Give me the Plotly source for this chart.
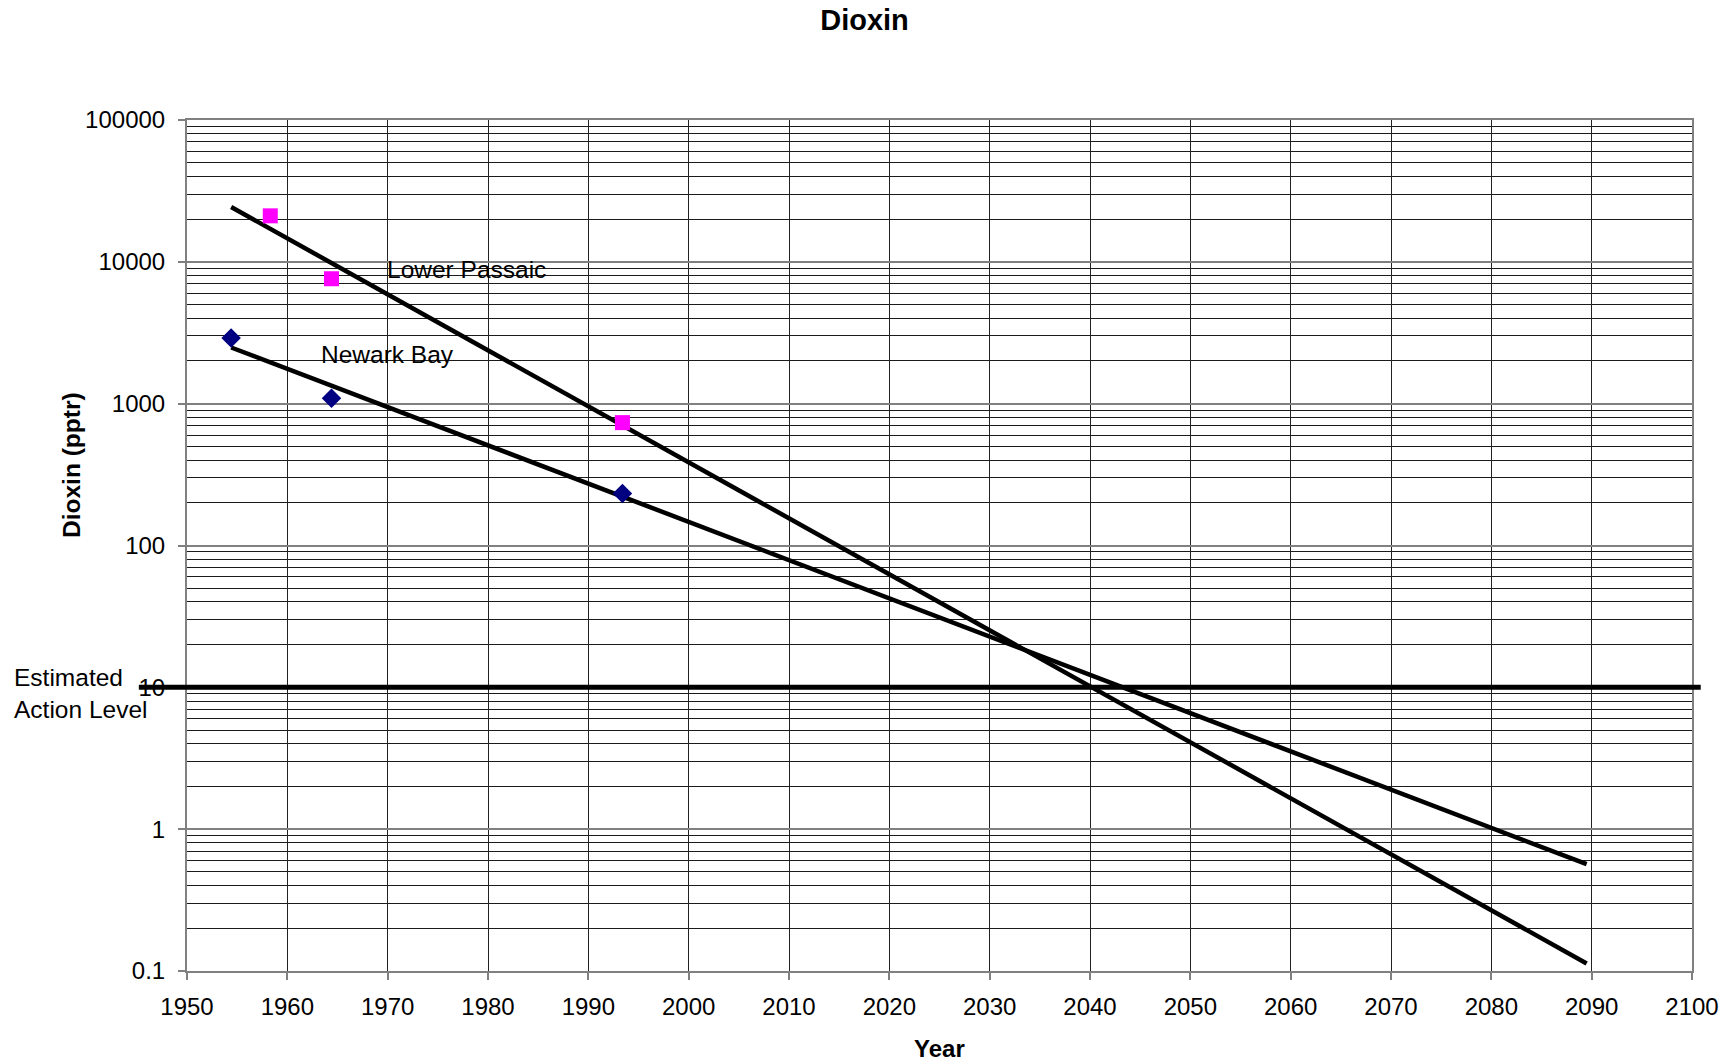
import numpy as np
import plotly.graph_objects as go

# ---- data ----
passaic_years = [1958.3, 1964.4, 1993.4]
passaic_vals = [21100, 7600, 735]

newark_years = [1954.4, 1964.4, 1993.4]
newark_vals = [2900, 1090, 233]

TREND_START = 1954.4
TREND_END = 2089.5
ACTION_LEVEL = 10

y_tickvals = [0.1, 1, 10, 100, 1000, 10000, 100000]
y_ticktext = ["0.1", "1", "10", "100", "1000", "10000", "100000"]
x_tickvals = list(range(1950, 2101, 10))

FONT = "Liberation Sans, Arial, sans-serif"


def exp_trend(xs, ys):
    b, a = np.polyfit(np.array(xs), np.log10(np.array(ys)), 1)
    tx = np.array([TREND_START, TREND_END])
    return tx, 10 ** (a + b * tx)


fig = go.Figure()

for xs, ys in [(passaic_years, passaic_vals), (newark_years, newark_vals)]:
    tx, ty = exp_trend(xs, ys)
    fig.add_trace(go.Scatter(x=tx, y=ty, mode="lines",
                             line=dict(color="black", width=4.5),
                             showlegend=False, hoverinfo="skip"))

fig.add_trace(go.Scatter(x=passaic_years, y=passaic_vals, mode="markers",
                         name="Lower Passaic",
                         marker=dict(symbol="square", size=15, color="#FF00FF"),
                         showlegend=False))
fig.add_trace(go.Scatter(x=newark_years, y=newark_vals, mode="markers",
                         name="Newark Bay",
                         marker=dict(symbol="diamond", size=15, color="#000080"),
                         showlegend=False))

# action level line
fig.add_shape(type="line", xref="paper", yref="y",
              x0=-0.032, x1=1.0058, y0=ACTION_LEVEL, y1=ACTION_LEVEL,
              line=dict(color="black", width=5), layer="above")

ann_font = dict(family=FONT, size=24.5, color="black")
fig.add_annotation(text="Lower Passaic", xref="paper", yref="paper",
                   x=0.1316, y=0.8249, xanchor="left", yanchor="middle",
                   showarrow=False, font=ann_font)
fig.add_annotation(text="Newark Bay", xref="paper", yref="paper",
                   x=0.0877, y=0.7239, xanchor="left", yanchor="middle",
                   showarrow=False, font=ann_font)
fig.add_annotation(text="Estimated<br>Action Level", xref="paper", yref="paper",
                   x=-0.1163, y=0.3261, xanchor="left", yanchor="middle",
                   align="left", showarrow=False, font=ann_font)
fig.add_annotation(text="<b>Dioxin (pptr)</b>", xref="paper", yref="paper",
                   x=-0.0764, y=0.5946, xanchor="center", yanchor="middle",
                   textangle=-90, showarrow=False,
                   font=dict(family=FONT, size=24.5, color="black"))
fig.add_annotation(text="<b>Year</b>", xref="paper", yref="paper",
                   x=0.5003, y=-0.0905, xanchor="center", yanchor="middle",
                   showarrow=False, font=dict(family=FONT, size=24, color="black"))

fig.update_layout(
    width=1736, height=1062,
    margin=dict(l=187, r=44, t=120, b=91),
    paper_bgcolor="white", plot_bgcolor="white",
    font=dict(family=FONT, size=24, color="black"),
    title=dict(text="<b>Dioxin</b>", x=0.498, xref="container", xanchor="center",
               y=0.981, yref="container", yanchor="middle",
               font=dict(family=FONT, size=29, color="black")),
    showlegend=False,
)

fig.update_xaxes(range=[1950, 2100], tickvals=x_tickvals,
                 showgrid=True, gridcolor="#222222", gridwidth=1,
                 showline=True, linecolor="#808080", linewidth=2, mirror=True,
                 ticks="outside", ticklen=7, tickcolor="#808080", tickwidth=2,
                 ticklabelstandoff=6,
                 tickfont=dict(family=FONT, size=24, color="black"),
                 zeroline=False)

fig.update_yaxes(type="log", range=[-1, 5], tickvals=y_tickvals, ticktext=y_ticktext,
                 showgrid=True, gridcolor="#808080", gridwidth=2,
                 minor=dict(dtick="D1", showgrid=True, gridcolor="#1a1a1a", gridwidth=1, ticks=""),
                 showline=True, linecolor="#808080", linewidth=2, mirror=True,
                 ticks="outside", ticklen=7, tickcolor="#808080", tickwidth=2,
                 ticklabelstandoff=8,
                 tickfont=dict(family=FONT, size=24, color="black"),
                 zeroline=False)

fig.write_html("out.html",
               config={"displayModeBar": False},
               post_script="document.body.style.margin='0';document.body.style.overflow='hidden';window.dispatchEvent(new Event('resize'));")
